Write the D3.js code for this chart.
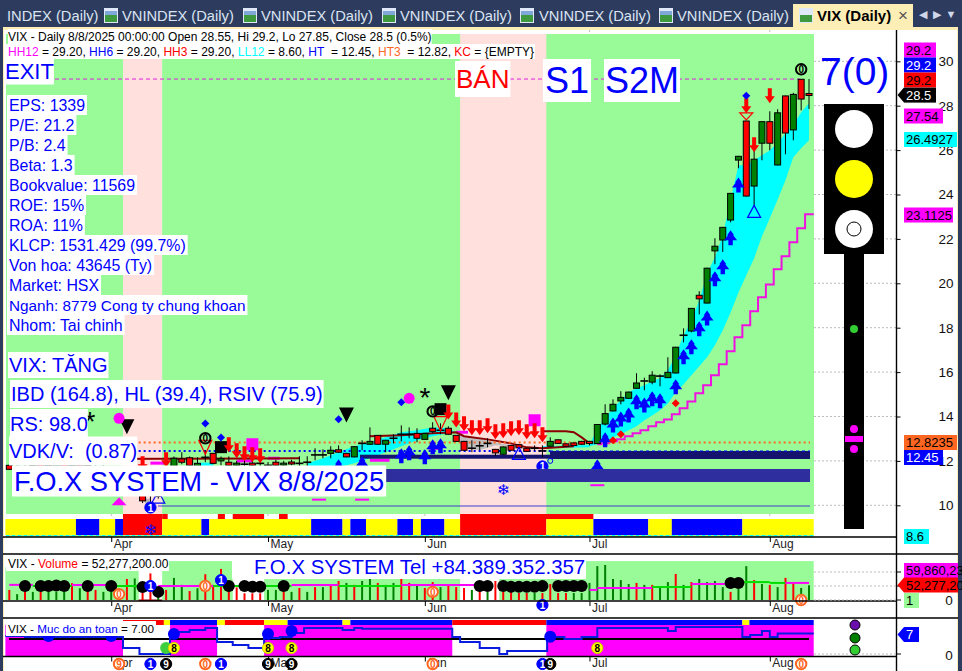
<!DOCTYPE html>
<html><head><meta charset="utf-8">
<script src="https://cdn.jsdelivr.net/npm/d3@7"></script>
<style>html,body{margin:0;padding:0;background:#fff;overflow:hidden}svg{display:block}text{font-family:"Liberation Sans",Arial,sans-serif}</style>
</head><body><svg id="c" width="962" height="671"></svg>
<script>
// ---------- DATA ----------
const opens=[11.80,11.70,11.70,11.70,11.85,11.70,11.80,11.90,11.70,11.85,11.80,11.60,11.70,11.60,11.40,11.30,11.00,10.70,10.00,10.40,11.50,11.76,12.09,12.14,11.76,12.16,12.34,12.00,11.94,11.80,11.85,11.90,11.89,11.80,11.94,11.85,11.95,11.89,11.94,12.27,12.27,12.34,12.50,12.34,12.18,12.79,12.75,13.15,12.75,13.02,13.20,13.20,13.24,12.97,13.47,13.38,13.47,13.15,12.88,12.57,12.68,12.79,12.52,12.30,12.70,12.73,12.57,12.57,12.45,12.66,12.95,12.77,12.81,12.88,12.88,12.78,13.66,14.25,14.70,14.82,15.27,15.60,15.55,15.82,15.75,15.96,17.66,17.85,19.46,19.11,21.46,21.95,22.85,25.55,27.31,24.38,26.31,27.28,25.33,28.44,26.91,29.19,28.55];
const closes=[11.62,11.75,11.65,11.80,11.75,11.80,11.85,11.75,11.80,11.80,11.65,11.70,11.60,11.40,11.30,11.00,10.70,10.20,10.02,10.90,11.00,12.12,11.94,11.80,11.89,12.16,11.89,12.10,11.80,11.90,11.85,11.80,11.89,11.80,11.80,11.90,11.90,11.89,11.94,12.27,12.27,12.48,12.39,12.18,12.64,12.79,12.88,12.75,12.93,13.02,13.20,13.20,13.02,13.24,13.33,13.38,13.20,12.88,12.48,12.57,12.68,12.79,12.36,12.63,12.48,12.59,12.43,12.57,12.45,12.88,12.79,12.66,12.69,12.75,12.78,13.64,14.13,14.55,14.86,15.10,15.51,15.60,15.86,15.82,15.99,17.12,17.66,18.87,19.30,20.68,21.67,22.52,24.05,25.72,23.93,25.59,27.28,26.31,27.68,26.77,28.51,28.30,28.50];
const highs=[11.85,11.85,11.90,11.90,11.95,11.90,11.95,12.00,11.90,12.00,11.95,11.80,11.85,11.70,11.60,11.50,11.20,10.90,10.50,11.00,11.70,12.20,12.39,12.20,12.16,12.48,12.36,12.20,12.20,12.00,12.00,12.00,12.00,11.95,12.05,12.00,12.05,12.21,12.21,12.57,12.52,12.66,12.70,12.36,12.66,12.93,13.51,13.15,12.95,13.20,13.60,13.51,13.47,13.26,13.74,13.69,13.56,13.15,12.90,12.93,12.88,13.02,12.54,12.65,12.72,12.75,12.59,12.70,12.70,13.06,12.97,12.79,12.83,12.90,12.90,13.66,14.55,14.77,15.14,15.12,15.95,15.75,16.04,15.90,16.67,17.14,17.97,18.89,19.64,20.70,22.03,22.54,24.07,25.74,27.33,26.08,27.30,27.75,27.84,28.46,28.58,29.20,29.20];
const lows=[11.60,11.50,11.60,11.60,11.70,11.60,11.65,11.70,11.60,11.70,11.60,11.50,11.55,11.30,11.20,10.90,10.60,10.10,10.00,10.30,10.90,11.70,11.85,11.70,11.70,11.94,11.85,11.80,11.75,11.70,11.70,11.70,11.75,11.70,11.75,11.70,11.80,11.70,11.76,12.03,12.12,12.12,12.36,12.16,12.16,12.48,12.73,12.73,12.39,12.79,12.88,13.02,12.84,12.95,13.24,13.20,13.18,12.86,12.46,12.39,12.48,12.61,12.21,12.28,12.46,12.57,12.41,12.45,12.16,12.64,12.77,12.64,12.67,12.73,12.70,12.76,13.60,14.23,14.55,14.80,15.25,15.18,15.45,15.36,15.73,15.94,17.34,17.79,18.60,19.09,20.86,21.41,22.75,25.18,23.91,23.51,25.54,25.99,25.31,25.81,26.44,27.79,27.85];
const volumes=[36,21,36,29,29,29,29,29,60,42,36,36,29,29,25,75,77,27,95,29,36,79,54,32,42,92,54,111,42,45,24,24,24,36,36,29,29,43,29,46,46,54,68,61,54,68,75,61,54,61,75,61,54,43,64,46,54,46,43,36,46,29,68,29,32,25,25,25,25,57,25,25,25,25,61,121,125,75,71,57,61,54,54,50,64,93,54,64,75,64,68,46,29,39,121,71,57,54,46,79,64,43,52.28];
const volumeColors="rgrgrgggrgrrggrrgrrgrggrgrrrrrrrrggrgrgrgrrgrggrggrrgrrgrrrgrgrrrrrgrrrrggggggggrgrggrgrggggrggrgrgrr".split("");
const monthBars=[13,33,53,74,97];
const monthNames=["Apr","May","Jun","Jul","Aug"];
const priceTicks=[30,28,26,24,22,20,18,16,14,12,10];
const sellZones=[[14.5,19.5],[57.5,68.5]];
const ribbonEdges=[-0.5,8.5,11.5,13.5,14.5,19.5,24.5,25.5,38.5,42.5,43.5,45.5,49.5,51.5,52.5,55.5,57.5,68.5,74.5,81.5,84.5,93.5,102.6];
const ribbonColors=["#ffff00","#0000ff","#ffff00","#0000ff","#ff0000","#ffff00","#0000ff","#ffff00","#0000ff","#ffff00","#0000ff","#ffff00","#0000ff","#ffff00","#0000ff","#ffff00","#ff0000","#ffff00","#0000ff","#ffff00","#0000ff","#ffff00"];
const redStrip=[[14.5,19.5],[19.5,20.2],[26.6,27.5],[28.5,32.5],[34.4,35.5],[57.5,74.5]];
const bandRightBars=[74,75,76,77,78,79,80,81,82,83,84,85,86,87,88,89,90,91,92,93,94,95,96,97,98,99,100,101,102];
const bandRightUpper=[12.70,13.47,13.92,14.37,14.73,15.09,15.27,15.41,15.59,15.72,16.08,16.76,17.66,18.33,19.23,20.45,21.17,22.16,23.74,25.32,25.32,25.54,25.77,25.99,26.31,26.76,27.12,27.70,28.11];
const bandRightLower=[12.66,12.75,12.84,13.06,13.20,13.38,13.56,13.83,14.05,14.28,14.59,15.09,15.45,15.86,16.26,16.67,17.21,17.88,18.69,19.59,20.36,21.13,22.12,22.93,23.78,24.64,25.68,26.08,26.44];
const bandLeftBars=[38,40,42,44,46,48,50,52,54,56,57];
const bandLeftUpper=[11.89,12.12,12.39,12.66,12.84,13.06,13.29,13.38,13.51,13.47,13.29];
const bandLeftLower=[11.71,11.71,11.71,11.89,12.12,12.39,12.66,12.93,13.11,13.24,13.29];
const bandMidBars=[68,74];const bandMidUpper=[12.66,12.72];const bandMidLower=[12.57,12.62];
const bandTinyBars=[24,26];const bandTinyUpper=[11.92,11.92];const bandTinyLower=[11.76,11.76];
const greyBars=[57,58,60,62,64,66,67];
const greyUpper=[13.29,13.11,13.02,12.84,12.70,12.57,12.52];
const greyLower=[13.29,12.57,12.48,12.70,12.66,12.52,12.52];
const greySpikes=[[17.5,10.3]];
const brownA=[[0,12.07],[20,12.10],[37,12.12]];
const brownB=[[46,13.11],[50,13.15],[54,13.24],[57,13.29],[58,13.11],[61,12.97],[64,12.79],[66,12.61],[68,12.57],[70,12.61],[72,12.66]];
const brownC=[[68,13.33],[71,13.33],[72,13.29],[73,13.06],[74,12.79]];
const stairBars=[75,76,77,78,79,80,81,82,83,84,85,86,87,88,89,90,91,92,93,94,95,96,97,98,99,100,101,102,102.6];
const stairValues=[12.75,12.79,12.88,12.97,13.11,13.24,13.38,13.56,13.74,13.87,14.10,14.37,14.68,15.05,15.41,15.86,16.35,16.94,17.57,18.11,18.74,19.37,19.95,20.63,21.22,21.85,22.48,23.11,23.11];
const stairBits=[[[18,11.9],[20,11.9]],[[33,12.12],[34.5,12.12]],[[29,12.0],[31,12.0]],[[46,12.03],[48.5,12.03]],[[53.5,12.57],[55,12.57]],[[57,13.29],[58.5,13.29]]];
const redArrows=[[17,11.53],[20,11.71],[28,12.39],[29,12.12],[30,11.98],[31,11.94],[32,11.89],[56,13.87],[57,13.51],[58,13.33],[59,13.15],[60,13.15],[61,13.24],[62,12.97],[63,13.02],[64,13.11],[65,13.15],[66,12.97],[67,13.02],[68,12.84],[94,27.66],[95,25.90],[97,28.11]];
const blueArrows=[[42,12.07],[45,12.21],[50,12.57],[51,12.70],[53,12.52],[54,12.97],[55,13.02],[75,12.07],[76,13.29],[77,13.96],[78,14.23],[79,14.41],[80,15.00],[81,14.86],[82,15.14],[83,15.05],[85,15.68],[86,17.03],[87,17.48],[88,18.29],[89,18.78],[90,20.54],[91,21.08],[92,22.39],[93,24.77]];
const blackDownTriangles=[[15,13.88],[43,14.41],[56,15.41]];
const blueDiamonds=[[42,13.88],[50,14.64],[25,13.69],[27,13.05],[94,28.45]];
const redDiamonds=[[78,13.2],[77,12.93],[85,14.6]];
const magentaCircles=[[51,14.82],[14,13.92]];
const asterisks=[[53,15.05],[10.3,13.95]];
const blackSquares=[[55,14.33],[27,12.62]];
const magentaSquares=[[31,12.75],[67,13.83]];
const rings=[[54,14.23],[25,13.02],[101,29.64]];
const redHollow=[[55,13.99],[25,12.93],[94,27.68]];
const blueHollow=[[95,22.97],[65,12.07],[19,10.1]];
const magentaTriangles=[[14,10.0]];
const magentaDashes=[[45,10.3],[39.5,10.3],[75,10.95]];
const blueOnes=[[18,9.9],[68,11.75]];
const tinyRings=[[69,12.0]];
const snowflakes=[[63,10.7],[18,8.9]];
const volumeFill=[[-0.5,16.5,118],[19.5,28.5,139],[32.5,57.5,75],[62.5,68.5,75],[68.5,102.6,139]];
const volumeMA=[[0,3,54,"#ff00ff"],[3,8,50,"#00dd00"],[8,13,54,"#ff00ff"],[13,17,50,"#00dd00"],[19,26,50,"#ff00ff"],[26,36,50,"#00dd00"],[36,42,54,"#ff00ff"],[42,50,50,"#00dd00"],[50,60,54,"#ff00ff"],[74,75,36,"#ff00ff"],[75,82,43,"#ff00ff"],[82,87,46,"#00dd00"],[87,92,57,"#ff00ff"],[93,97,64,"#00dd00"],[97,99,61,"#00dd00"],[99,102,61,"#ff00ff"]];
const volumeBalls=[[2,50],[4,50],[5,50],[6,52],[7,50],[10,50],[13,50],[17,46],[19,29],[28,50],[30,50],[31,47],[32,47],[35,50],[60,50],[61,50],[63,50],[64,47],[65,47],[66,47],[67,47],[68,50],[70,50],[71,50],[72,50],[73,50],[92,61],[93,61]];
const volumeOnes=[[18,50],[27,71],[68,-18]];
const volumeZeros=[[14,21],[25,50],[54,29],[101,0]];
const safetyStrip=[[14.5,20.5,"#ff0000"],[18.8,19.7,"#ff0000"],[19.7,20.6,"#ffff00"],[20.5,26.5,"#0000ff"],[26.5,27.5,"#ffff00"],[27.5,32.5,"#ff0000"],[32.5,35.5,"#ffff00"],[35.5,42.5,"#0000ff"],[42.5,43.5,"#ffff00"],[43.5,56.5,"#0000ff"],[56.5,68.5,"#ff0000"],[68.5,93.5,"#0000ff"],[93.5,94.4,"#ffff00"],[94.4,102.6,"#0000ff"]];
const safetyFill=[[-0.5,14.5],[20.5,26.5],[32.5,56.5],[68.5,102.6]];
const safetyBars=[-0.5,2,14.5,16.6,20.5,21,23,25,26.5,28.5,30.5,32.5,34.5,36,37.6,42.5,44,45,56.5,57.5,60,61.5,62.5,63.5,68.6,70.8,73,75,84,85,93.5,94.5,96,97,98,102.6];
const safetyValues=[6.3,5.95,2.1,0,5.6,7.7,8.4,9.1,4.2,3.15,2.1,5.6,5.95,7.35,9.1,8.4,9.1,8.8,5.95,4.2,2.1,2.1,0,1.05,5.95,5.25,5.95,9.1,8.05,9.45,5.95,6.65,8.05,5.95,7.2,7.2];
const safetyBalls=[[5,6.3],[13,6.3],[21,7],[33,7],[36,8.05],[69,6]];
const safetyEights=[[21,2.1],[33,2.1],[36,2.1],[75,2.1]];
const bottomMarks=[[14,"o","9"],[18,"b","1"],[20,"k","9"],[25,"o","0"],[27,"b","1"],[33,"k","9"],[36,"k","9"],[54,"o","0"],[68,"b","1"],[69,"k","9"],[101,"o","0"]];
const infoLines=["EPS: 1339","P/E: 21.2","P/B: 2.4","Beta: 1.3","Bookvalue: 11569","ROE: 15%","ROA: 11%","KLCP: 1531.429 (99.7%)","Von hoa: 43645 (Ty)","Market: HSX","Nganh: 8779 Cong ty chung khoan","Nhom: Tai chinh"];
const priceLabels=[["29.2",50,"#ff00ff","#000",32],["29.2",65,"#0000ff","#fff",32],["29.2",80,"#ff0000","#000",32],["27.54",116,"#ff00ff","#000",39],["26.4927",139.5,"#00ffff","#000",53],["23.1125",215,"#ff00ff","#000",49],["12.8235",442.5,"#ff6622","#000",53],["12.45",457.5,"#0000ff","#fff",39],["8.6",536.5,"#00ffff","#000",25]];
const headerLine2=[["HH12","#ff00ff"],[" = 29.20, ","#000"],["HH6","#0000ff"],[" = 29.20, ","#000"],["HH3","#ff0000"],[" = 29.20, ","#000"],["LL12","#00ffff"],[" = 8.60, ","#000"],["HT","#0000ff"],["  = 12.45, ","#000"],["HT3","#ff6622"],["  = 12.82, ","#000"],["KC","#ff0000"],[" = {EMPTY}","#000"]];
const tabLabels=[["INDEX (Daily)",7,null],["VNINDEX (Daily)",122,104],["VNINDEX (Daily)",261,243],["VNINDEX (Daily)",400,382],["VNINDEX (Daily)",539,520],["VNINDEX (Daily)",677,659]];

// ---------- SCALES ----------
const x=d3.scaleLinear().domain([0,102]).range([9.3,809]);
const y=d3.scaleLinear().domain([10,30]).range([505.3,61.3]);
const yv=d3.scaleLinear().domain([0,100]).range([600,572]);
const ys=d3.scaleLinear().domain([0,7]).range([654,634]);
const svg=d3.select("#c");
const NAVY="#2d3c5e",PLOT="#98fb98",PINK="#ffe0dc",BLUE="#0000ff";
const R=(g,a,b,c,d,f)=>g.append("rect").attr("x",a).attr("y",b).attr("width",Math.max(0,c)).attr("height",Math.max(0,d)).attr("fill",f);
const L=(g,a,b,c,d,s,w,dash)=>g.append("line").attr("x1",a).attr("y1",b).attr("x2",c).attr("y2",d).attr("stroke",s).attr("stroke-width",w||1).attr("stroke-dasharray",dash||null);
const T=(g,s,a,b,size,f,o={})=>g.append("text").text(s).attr("x",a).attr("y",b).attr("font-size",size).attr("fill",f).attr("text-anchor",o.anchor||"start").attr("dominant-baseline","central").attr("font-weight",o.weight||null).style("white-space","pre");
const root=svg.append("g");

// ---------- FRAME ----------
R(root,0,0,962,671,"#fff");
R(root,0,0,962,27,NAVY);R(root,0,27,962,3,"#fdeeb5");R(root,0,0,3,671,NAVY);R(root,3,27,1,644,"#fdeeb5");R(root,958,0,4,671,NAVY);R(root,957,27,1,644,"#fdeeb5");
tabLabels.forEach(t=>{
  T(root,t[0],t[1],15.5,14.7,"#dbe4f3");
  if(t[2]!==null){R(root,t[2],8,14,15,"#dfe8f8");R(root,t[2]+1,15,12,7,"#3f9a3f");R(root,t[2]+1,11,12,4,"#7fa8d8");}
});
R(root,793,4,120,24,"#fdeeb5");R(root,799,8,14,15,"#dfe8f8");R(root,800,15,12,7,"#3f9a3f");
T(root,"VIX (Daily)",817,15.5,15,"#000",{weight:"bold"});T(root,"×",898,15,17,"#555");
[[923,"◀"],[937,"▶"],[951,"▼"]].forEach(d=>T(root,d[1],d[0],14,11,"#cfd8e8",{anchor:"middle"}));

// ---------- MAIN PANE BACKGROUND ----------
priceTicks.forEach(v=>L(root,814,y(v),896,y(v),"#bbb",1,"2,2"));
monthBars.forEach(b=>L(root,x(b),30,x(b),516,"#bbb",1,"2,2"));
R(root,6,34,808,480,PLOT);
sellZones.forEach(z=>R(root,x(z[0]),34,x(z[1])-x(z[0]),480,PINK));

// ---------- RIBBON ----------
ribbonColors.forEach((c,i)=>R(root,x(ribbonEdges[i]),519,x(ribbonEdges[i+1])-x(ribbonEdges[i]),16,c));
redStrip.forEach(s=>R(root,x(s[0]),514,x(s[1])-x(s[0]),5,"#ff0000"));
R(root,6,535,808,2,"#98fb98");L(root,6,535.5,814,535.5,"#00ffff",1,"3,3");

// ---------- BANDS AND LINES ----------
const area=(bars,u,l,f)=>root.append("path").attr("fill",f).attr("d",d3.area().x((d,i)=>x(bars[i])).y0((d,i)=>y(l[i])).y1((d,i)=>y(u[i]))(bars));
area(bandRightBars,bandRightUpper,bandRightLower,"#00ffff");
area(bandLeftBars,bandLeftUpper,bandLeftLower,"#00ffff");
area(bandMidBars,bandMidUpper,bandMidLower,"#00ffff");
area(bandTinyBars,bandTinyUpper,bandTinyLower,"#00ffff");
area(greyBars,greyUpper,greyLower,"#c0c0c0");
greySpikes.forEach(d=>root.append("path").attr("fill","#b8b8b8").attr("d",d3.line()([[x(d[0])-4,y(d[1])],[x(d[0])+4,y(d[1])],[x(d[0]),y(10)]])+"Z"));
const ln=d3.line().x(d=>x(d[0])).y(d=>y(d[1]));
stairBits.forEach(s=>root.append("path").attr("d",ln(s)).attr("fill","none").attr("stroke","#ff00ff").attr("stroke-width",3));
root.append("path").attr("d",d3.line().curve(d3.curveStep).x((d,i)=>x(stairBars[i])).y((d,i)=>y(stairValues[i]))(stairBars)).attr("fill","none").attr("stroke","#f010e0").attr("stroke-width",2);
[brownA,brownB,brownC].forEach(s=>root.append("path").attr("d",ln(s)).attr("fill","none").attr("stroke","#8b0000").attr("stroke-width",2));
L(root,x(16.5),y(12.8235),810,y(12.8235),"#ff6622",2,"2,3");
L(root,x(16.5),y(12.45),x(69),y(12.45),BLUE,2,"2,3");
L(root,55,y(29.2),800,y(29.2),"#e020e0",1,"4,3");
L(root,158,506,810,506,"#3f3fd0",1.2);
R(root,360,454.7,190,4,"#14146e");R(root,550,451,260,8,"#14146e");
L(root,550,451,810,451,BLUE,1,"3,3");

// ---------- CANDLES ----------
const g=root.append("g");
opens.forEach((o,i)=>{
  const c=closes[i],X=x(i);
  L(g,X,y(highs[i]),X,y(lows[i]),"#000",1);
  if(Math.abs(o-c)<0.02){L(g,X-4,y(c),X+4,y(c),"#000",1.6);return;}
  const t=y(Math.max(o,c)),b=y(Math.min(o,c));
  R(g,X-3,t,6,Math.max(b-t,2),c>o?"#008000":"#ff0000").attr("stroke","#000").attr("stroke-width",1);
});

// ---------- MARKERS ----------
const m=root.append("g");
const tri=(X,Y0,Y1,hw,f,s)=>m.append("path").attr("d",d3.line()([[X-hw,Y0],[X+hw,Y0],[X,Y1]])+"Z").attr("fill",f).attr("stroke",s||"none").attr("stroke-width",s?1.2:0);
redHollow.forEach(d=>tri(x(d[0]),y(d[1]),y(d[1])+(d[0]==94?7:14),6.5,"none","#ff0000"));
blueHollow.forEach(d=>tri(x(d[0]),y(d[1]),y(d[1])-12,6.5,"none",BLUE));
blackDownTriangles.forEach(d=>tri(x(d[0]),y(d[1]),y(d[1])+15,7.5,"#000"));
magentaTriangles.forEach(d=>tri(x(d[0]),y(d[1]),y(d[1])-8,7.5,"#ff00ff"));
magentaDashes.forEach(d=>R(m,x(d[0])-7,y(d[1]),14,2,"#ff00ff"));
blackSquares.forEach(d=>R(m,x(d[0])-6,y(d[1])-6,12,12,"#000"));
magentaSquares.forEach(d=>R(m,x(d[0])-6,y(d[1])-6,12,12,"#ff00ff"));
redArrows.forEach(d=>{const X=x(d[0]),Y=y(d[1]);
  m.append("path").attr("fill","#ff0000").attr("d",d3.line()([[X,Y],[X-5,Y-7],[X-2,Y-7],[X-2,Y-15],[X+2,Y-15],[X+2,Y-7],[X+5,Y-7]])+"Z");});
blueArrows.forEach(d=>{const X=x(d[0]),Y=y(d[1]);
  m.append("path").attr("fill",BLUE).attr("d",d3.line()([[X,Y],[X-3.5,Y+5],[X-2.5,Y+5],[X-6.5,Y+10],[X-2.2,Y+10],[X-2.2,Y+15],[X+2.2,Y+15],[X+2.2,Y+10],[X+6.5,Y+10],[X+2.5,Y+5],[X+3.5,Y+5]])+"Z");});
const dia=(d,f,r)=>m.append("path").attr("fill",f).attr("d",d3.line()([[x(d[0]),y(d[1])-r],[x(d[0])+r,y(d[1])],[x(d[0]),y(d[1])+r],[x(d[0])-r,y(d[1])]])+"Z");
blueDiamonds.forEach(d=>dia(d,BLUE,4));
redDiamonds.forEach(d=>dia(d,"#ff0000",4));
magentaCircles.forEach(d=>m.append("circle").attr("cx",x(d[0])).attr("cy",y(d[1])).attr("r",5.5).attr("fill","#ff00ff"));
asterisks.forEach(d=>T(m,"*",x(d[0]),y(d[1])+4,28,"#000",{anchor:"middle"}));
const badge=(g0,X,Y,kind,ch)=>{
  const st={k:["#000","#000","#fff"],b:[BLUE,BLUE,"#fff"],o:["#fff","#ff6622","#ff6622"],y:["#ffff00","#cccc00","#000"],r:["none","#000","#000"]}[kind];
  g0.append("circle").attr("cx",X).attr("cy",Y).attr("r",kind=="o"||kind=="r"?5.2:5.6).attr("fill",st[0]).attr("stroke",st[1]).attr("stroke-width",kind=="o"||kind=="r"?2:1);
  T(g0,ch,X,Y+.5,10,st[2],{anchor:"middle",weight:"bold"});
};
rings.forEach(d=>badge(m,x(d[0]),y(d[1]),"r","0"));
blueOnes.forEach(d=>badge(m,x(d[0]),y(d[1]),"b","1"));
tinyRings.forEach(d=>m.append("circle").attr("cx",x(d[0])).attr("cy",y(d[1])).attr("r",2.5).attr("fill","none").attr("stroke",BLUE));
snowflakes.forEach(d=>T(m,"❄",x(d[0]),y(d[1]),15,BLUE,{anchor:"middle"}).style("font-family","DejaVu Sans"));
R(root,385,469,425,13,"#2e2e9e");

// ---------- TEXT BOXES ----------
const tb=root.append("g");
const box=(s,X,Yc,size,f,pad=2,h)=>{
  const r=tb.append("rect").attr("fill","#fff");
  const t=T(tb,s,X,Yc,size,f);
  const w=t.node().getComputedTextLength();
  const H=h||size*1.25;
  r.attr("x",X-pad).attr("y",Yc-H/2).attr("width",w+2*pad).attr("height",H);
  return t;
};
box("VIX - Daily 8/8/2025 00:00:00 Open 28.55, Hi 29.2, Lo 27.85, Close 28.5 (0.5%)",8,36.5,12,"#000",0,15);
{let cx=8;const bg=tb.append("rect").attr("fill","#fff");headerLine2.forEach(p=>{const t=T(tb,p[0],cx,51.5,12,p[1]);cx+=t.node().getComputedTextLength();});bg.attr("x",6).attr("y",44).attr("width",cx-6+1).attr("height",15);}
box("EXIT",5,71.5,22,BLUE,0,26);
box("BÁN",456,79,26,"#ff0000",1,36);
box("S1",545,80.5,36,BLUE,2,43);
box("S2M",605,80.5,36,BLUE,1,43);
infoLines.forEach((s,i)=>box(s,9,105+20*i,i==10?15.3:15.9,BLUE,2,20));
box("VIX: TĂNG",9,365,20,BLUE,1,26);
box("IBD (164.8), HL (39.4), RSIV (75.9)",11,394,20,BLUE,1,28);
box("RS: 98.0",10,424,20,BLUE,0,30);
box("VDK/V:  (0.87)",9,451,20,BLUE,0,29);
box("F.O.X SYSTEM - VIX 8/8/2025",14,481,27.3,BLUE,2,31);
T(root.append("g"),"7(0)",820,71,39,BLUE);

// ---------- TRAFFIC LIGHT ----------
R(root,824,104,60,150,"#000");R(root,844,254,20,275,"#000");
[[129,"#fff"],[179,"#ffff00"],[229,"#fff"]].forEach(d=>root.append("circle").attr("cx",854).attr("cy",d[0]).attr("r",19).attr("fill",d[1]));
root.append("circle").attr("cx",854).attr("cy",229).attr("r",7).attr("fill","none").attr("stroke","#000");
root.append("circle").attr("cx",854).attr("cy",329).attr("r",4).attr("fill","#32cd32");
[429,449].forEach(c=>root.append("circle").attr("cx",854).attr("cy",c).attr("r",4).attr("fill","#ff00ff"));
R(root,845,436,18,6,"#ff00ff");

// ---------- VOLUME PANE ----------
const v=root.append("g");
volumeFill.forEach(d=>R(v,x(d[0]),yv(d[2]),x(d[1])-x(d[0]),yv(0)-yv(d[2]),PLOT));
R(v,x(16.5),599.5,x(19.5)-x(16.5),1.5,"#8b0000");
volumes.forEach((d,i)=>L(v,x(i),yv(d),x(i),yv(0),volumeColors[i]=="r"?"#ff0000":"#008000",2));
volumeMA.forEach(d=>L(v,x(d[0]),yv(d[2]),x(d[1]),yv(d[2]),d[3],2));
volumeBalls.forEach(d=>v.append("circle").attr("cx",x(d[0])).attr("cy",yv(d[1])).attr("r",6).attr("fill","#000"));
volumeOnes.forEach(d=>badge(v,x(d[0]),yv(d[1]),"b","1"));
volumeZeros.forEach(d=>badge(v,x(d[0]),yv(d[1]),"o","0"));
R(v,6,556,163,15,"#fff");
{let cx=8;[["VIX - ","#000"],["Volume","#ff0000"],[" = 52,277,200.00","#000"]].forEach(p=>{const t=T(v,p[0],cx,564,12,p[1]);cx+=t.node().getComputedTextLength();});}
R(v,232,555,354,24,"#fff");
T(v,"F.O.X SYSTEM Tel +84.389.352.357",254,567,20.4,BLUE);

// ---------- SAFETY PANE ----------
const s=root.append("g");
safetyFill.forEach(d=>R(s,x(d[0]),625,x(d[1])-x(d[0]),31,"#ff00ff"));
safetyStrip.forEach(d=>R(s,x(d[0]),620,x(d[1])-x(d[0]),5,d[2]));
L(s,9,639,809,639,"#000",2);
s.append("path").attr("d",d3.line().curve(d3.curveStepAfter).x((d,i)=>x(safetyBars[i])).y((d,i)=>ys(safetyValues[i]))(safetyBars)).attr("fill","none").attr("stroke","#0a1be0").attr("stroke-width",2);
safetyBalls.forEach(d=>s.append("circle").attr("cx",x(d[0])).attr("cy",ys(d[1])).attr("r",6).attr("fill",BLUE));
s.append("circle").attr("cx",x(20)).attr("cy",ys(2.1)).attr("r",6).attr("fill","#3ecf3e");
safetyEights.forEach(d=>badge(s,x(d[0]),ys(d[1]),"y","8"));
R(s,6,621,150,15,"#fff");
{let cx=8;[["VIX - ","#000"],["Muc do an toan","#0000ff"],[" = 7.00","#000"]].forEach(p=>{const t=T(s,p[0],cx,628,11.7,p[1]);cx+=t.node().getComputedTextLength();});}

// ---------- AXES AND PANE LINES ----------
[[537,3,896],[554,3,958],[601,3,896],[618,3,958],[656.5,3,896]].forEach(d=>L(root,d[1],d[0],d[2],d[0],"#000",1.4));
L(root,896.5,30,896.5,671,"#000",1.4);
[537,601,656.5].forEach(Y=>{
  const ax=root.append("g").attr("transform",`translate(0,${Y})`).call(d3.axisBottom(x).tickValues(monthBars).tickFormat((d,i)=>monthNames[i]).tickSize(5).tickPadding(-3));
  ax.select(".domain").remove();
  ax.selectAll("text").attr("font-size",12).attr("font-family","Liberation Sans").attr("text-anchor","start").attr("dx",2).attr("fill","#222");
});
const ay=root.append("g").attr("transform","translate(896.5,0)").call(d3.axisRight(y).tickValues(priceTicks).tickFormat(d3.format("d")).tickSize(4).tickPadding(38));
ay.select(".domain").remove();ay.selectAll("text").attr("font-size",13.5).attr("font-family","Liberation Sans").attr("fill","#111");
[[0,yv],[100,yv],[50,yv]].forEach(d=>{L(root,814,d[1](d[0]),896,d[1](d[0]),"#bbb",1,"2,2");L(root,896,d[1](d[0]),901,d[1](d[0]),"#000");});
L(root,814,ys(0),896,ys(0),"#bbb",1,"2,2");L(root,896,ys(0),901,ys(0),"#000");
T(root,"0",949,yv(0),13.5,"#111",{anchor:"middle"});T(root,"0",949,ys(0)+1,13.5,"#111",{anchor:"middle"});

// ---------- BOTTOM MARKS ----------
bottomMarks.forEach(d=>badge(root,x(d[0]),664,d[1],d[2]));

// ---------- RIGHT LABELS ----------
const lab=(t,Yc,bg,f,w,arrow)=>{
  if(arrow)root.append("path").attr("fill",bg).attr("d",d3.line()([[897.5,Yc],[904,Yc-7.5],[904,Yc+7.5]])+"Z");
  R(root,904,Yc-7.5,w,15,bg);T(root,t,906,Yc,13,f);
};
priceLabels.forEach(d=>lab(d[0],d[1],d[2],d[3],d[4]));
lab("28.5",y(28.5)+.5,"#000","#fff",32,true);
lab("59,860,23",570.5,"#ff00ff","#000",54);
lab("52,277,20",585,"#ff0000","#000",54,true);
lab("1",600.5,PLOT,"#000",15);
lab("7",634.5,BLUE,"#fff",15,true);
[[625,"#6a0dad"],[638,"#008000"],[650,"#32cd32"]].forEach(d=>root.append("circle").attr("cx",855).attr("cy",d[0]).attr("r",5).attr("fill",d[1]).attr("stroke","#000"));
</script></body></html>
